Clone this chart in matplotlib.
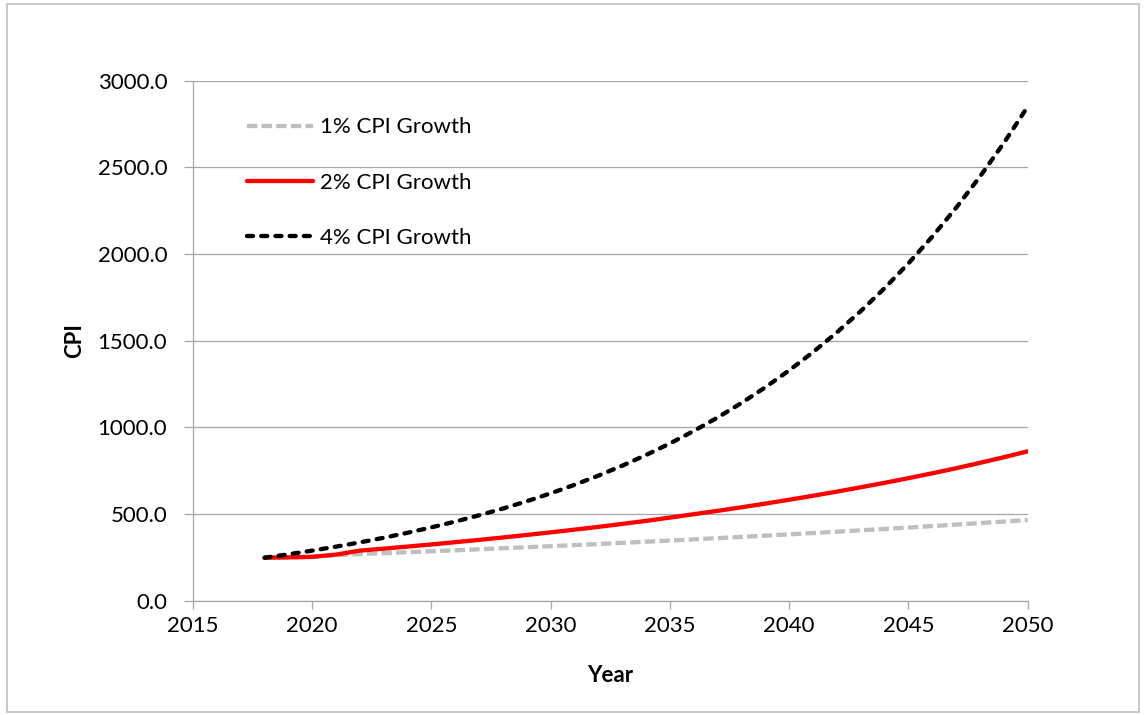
# -*- coding: utf-8 -*-
# CPI projections, 2018-2050
import matplotlib
matplotlib.use("Agg")
import matplotlib.pyplot as plt
from matplotlib.patches import Rectangle

plt.rcParams['font.family'] = ['Lato', 'DejaVu Sans']

# ---------------- data ----------------
years = list(range(2018, 2051))

cpi_1pct = [248, 250, 253, 263, 269.0, 274.3, 279.7, 285.3, 290.9, 296.7,
            302.6, 308.5, 314.6, 320.9, 327.2, 333.7, 340.3, 347.0, 353.9,
            360.9, 368.0, 375.3, 382.7, 390.3, 398.0, 405.9, 413.9, 422.1,
            430.5, 439.0, 447.7, 456.5, 465.5]

cpi_2pct = [248, 250, 253, 266, 289.0, 300.4, 312.3, 324.7, 337.6, 350.9,
            364.8, 379.3, 394.3, 409.9, 426.1, 443.0, 460.6, 479.5, 499.0,
            518.5, 539.0, 560.3, 582.4, 605.4, 629.4, 654.3, 680.1, 707.0,
            735.0, 764.1, 795.3, 827.7, 862.0]

cpi_4pct = [248, 267.7, 288.9, 311.8, 336.5, 363.2, 392.0, 423.1, 456.6,
            492.8, 531.9, 574.1, 619.6, 668.7, 721.7, 779.0, 840.8, 907.4,
            979.4, 1057.0, 1140.8, 1231.3, 1328.9, 1434.3, 1548.0, 1670.8,
            1803.3, 1946.3, 2100.6, 2267.2, 2447.0, 2641.0, 2850.4]

labels = ['1% CPI Growth', '2% CPI Growth', '4% CPI Growth']

# ---------------- figure ----------------
fig = plt.figure(figsize=(11.46, 7.15), dpi=100)
ax = fig.add_axes([193 / 1146, 114.3 / 715, (1027.7 - 193) / 1146, 520 / 715])

# outer chart border
fig.patches.append(Rectangle((7 / 1146, 3 / 715), 1132 / 1146, 708 / 715,
                             transform=fig.transFigure, fill=False,
                             edgecolor='#bfbfbf', linewidth=1.2))

lw = 3.1
ax.plot(years, cpi_1pct, color='#bfbfbf', linewidth=lw, dashes=(2.4, 1.0),
        dash_capstyle='butt', label=labels[0])
ax.plot(years, cpi_2pct, color='#ff0000', linewidth=lw, solid_capstyle='round',
        label=labels[1])
ax.plot(years, cpi_4pct, color='black', linewidth=lw, dashes=(1.4, 1.9),
        dash_capstyle='round', label=labels[2])

ax.set_xlim(2015, 2050)
ax.set_ylim(0, 3000)
ax.set_xticks(range(2015, 2051, 5))
ax.set_yticks(range(0, 3001, 500))
ax.set_yticklabels(['%.1f' % v for v in range(0, 3001, 500)])

grid_col = '#a6a6a6'
ax.grid(axis='y', color=grid_col, linewidth=0.9)
ax.set_axisbelow(True)
for s in ['top', 'right']:
    ax.spines[s].set_visible(False)
for s in ['left', 'bottom']:
    ax.spines[s].set_color(grid_col)
    ax.spines[s].set_linewidth(0.9)

fs = 16
ax.tick_params(axis='y', direction='out', length=6.5, width=0.9, color=grid_col,
               labelsize=fs, pad=12)
ax.tick_params(axis='x', direction='out', length=6, width=0.9, color=grid_col,
               labelsize=fs, pad=5)

ax.set_xlabel('Year', fontsize=fs, fontweight='bold', labelpad=21)
ax.set_ylabel('CPI', fontsize=fs, fontweight='bold', labelpad=9)

ax.legend(loc='upper left', bbox_to_anchor=(0.0545, 0.9465), frameon=False,
          fontsize=fs, handlelength=2.95, handletextpad=0.32, labelspacing=1.58,
          borderaxespad=0)

fig.savefig('out.png', dpi=100)
